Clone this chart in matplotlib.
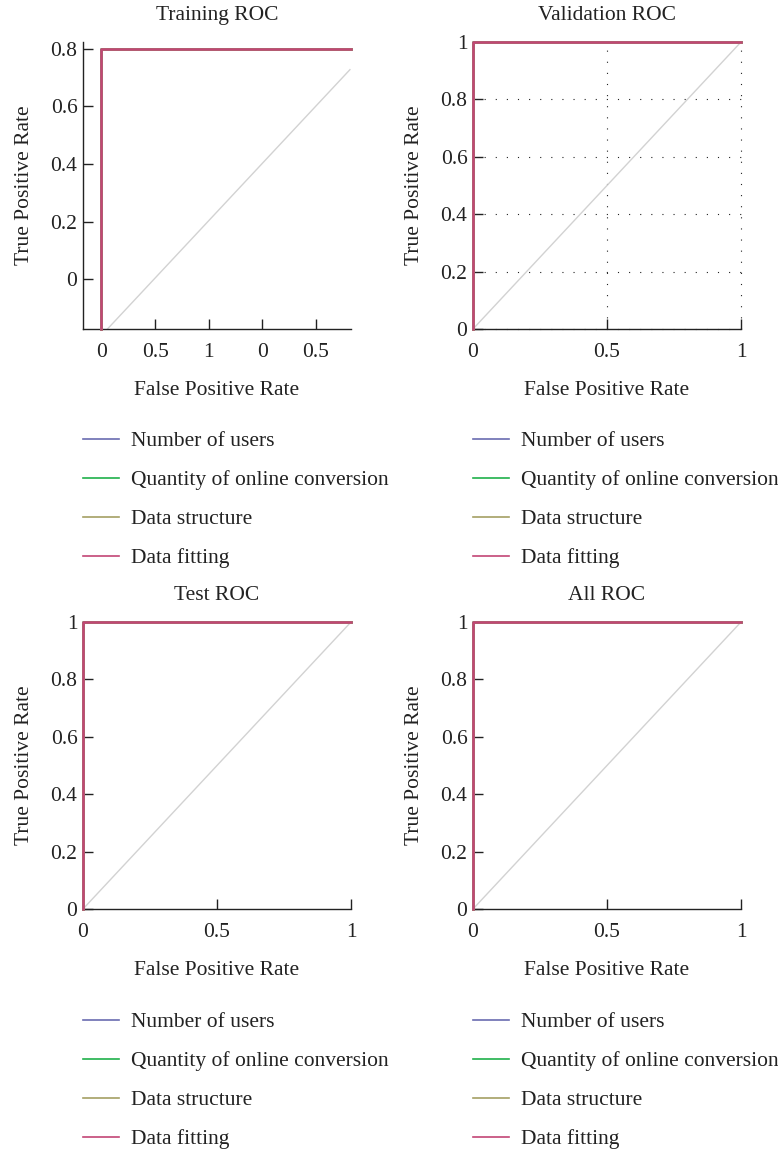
import matplotlib
matplotlib.use("Agg")
import matplotlib.pyplot as plt

plt.rcParams["font.family"] = ["Liberation Serif", "DejaVu Serif"]
FS = 15.5
plt.rcParams["font.size"] = FS

# Series names and colours
series_names = ["Number of users", "Quantity of online conversion",
                "Data structure", "Data fitting"]
series_colors = ["#6a6cb0", "#1fb04a", "#a4a064", "#c24676"]

# Training ROC (zoomed view)
train_fpr = [0.0, 0.0, 2.33]
train_tpr = [-0.173, 0.8, 0.8]
train_chance_x = [0.056, 2.316]
train_chance_y = [-0.173, 0.727]
train_xticks = [0.0, 0.5, 1.0, 1.5, 2.0]
train_xticklabels = ["0", "0.5", "1", "0", "0.5"]
train_yticks = [0.0, 0.2, 0.4, 0.6, 0.8]
train_yticklabels = ["0", "0.2", "0.4", "0.6", "0.8"]
train_xlim = (-0.172, 2.326)
train_ylim = (-0.173, 0.823)

# Validation / Test / All ROC
roc_fpr = [0.0, 0.0, 1.0]
roc_tpr = [0.0, 1.0, 1.0]
chance = [0.0, 1.0]
full_xticks = [0.0, 0.5, 1.0]
full_xticklabels = ["0", "0.5", "1"]
full_yticks = [0.0, 0.2, 0.4, 0.6, 0.8, 1.0]
full_yticklabels = ["0", "0.2", "0.4", "0.6", "0.8", "1"]

W, H = 778, 1151
fig = plt.figure(figsize=(W / 100, H / 100), dpi=100)
INK = "#222222"


def add_axes(left, top, width=268, height=287):
    return fig.add_axes([left / W, 1 - (top + height) / H, width / W, height / H])


def style(ax, title):
    for side in ("top", "right"):
        ax.spines[side].set_visible(False)
    for side in ("left", "bottom"):
        ax.spines[side].set_color(INK)
        ax.spines[side].set_linewidth(1.0)
    ax.tick_params(direction="in", length=7, width=1.0, colors=INK,
                   labelcolor=INK, labelsize=FS)
    ax.tick_params(axis="x", pad=10)
    ax.tick_params(axis="y", pad=4)
    ax.set_title(title, fontsize=FS, color=INK, pad=16)
    ax.set_xlabel("False Positive Rate", fontsize=FS, color=INK, labelpad=14)
    ax.set_ylabel("True Positive Rate", fontsize=FS, color=INK, labelpad=12)


def draw_curves(ax, fpr, tpr, cx, cy):
    ax.plot(cx, cy, color="#d2d2d2", lw=1.0, zorder=1)
    for name, col in zip(series_names, series_colors):
        ax.plot(fpr, tpr, color=col, lw=1.8, label=name, zorder=3, clip_on=False)


def add_legend_at(ax, x_left, y_top):
    leg = ax.legend(loc="upper left", bbox_to_anchor=(x_left / W, 1 - y_top / H),
                    bbox_transform=fig.transFigure, frameon=False, fontsize=FS,
                    handlelength=1.65, handletextpad=0.6, labelspacing=0.88,
                    borderpad=0, borderaxespad=0)
    for line in leg.get_lines():
        line.set_linewidth(1.2)
    for txt in leg.get_texts():
        txt.set_color(INK)


# Training
ax1 = add_axes(83, 42)
draw_curves(ax1, train_fpr, train_tpr, train_chance_x, train_chance_y)
ax1.set_xlim(*train_xlim)
ax1.set_ylim(*train_ylim)
ax1.set_xticks(train_xticks, train_xticklabels)
ax1.set_yticks(train_yticks, train_yticklabels)
style(ax1, "Training ROC")
add_legend_at(ax1, 83, 431)

# Validation
ax2 = add_axes(473, 42)
draw_curves(ax2, roc_fpr, roc_tpr, chance, chance)
ax2.set_xlim(0, 1)
ax2.set_ylim(0, 1)
ax2.set_xticks(full_xticks, full_xticklabels)
ax2.set_yticks(full_yticks, full_yticklabels)
ax2.grid(True, color=INK, linestyle=(0, (1, 9)), linewidth=0.8)
for gl in ax2.get_xgridlines() + ax2.get_ygridlines():
    gl.set_clip_on(False)
ax2.set_axisbelow(True)
style(ax2, "Validation ROC")
add_legend_at(ax2, 473, 431)

# Test
ax3 = add_axes(83, 622)
draw_curves(ax3, roc_fpr, roc_tpr, chance, chance)
ax3.set_xlim(0, 1)
ax3.set_ylim(0, 1)
ax3.set_xticks(full_xticks, full_xticklabels)
ax3.set_yticks(full_yticks, full_yticklabels)
style(ax3, "Test ROC")
add_legend_at(ax3, 83, 1012)

# All
ax4 = add_axes(473, 622)
draw_curves(ax4, roc_fpr, roc_tpr, chance, chance)
ax4.set_xlim(0, 1)
ax4.set_ylim(0, 1)
ax4.set_xticks(full_xticks, full_xticklabels)
ax4.set_yticks(full_yticks, full_yticklabels)
style(ax4, "All ROC")
add_legend_at(ax4, 473, 1012)

fig.savefig("out.png", dpi=100)
